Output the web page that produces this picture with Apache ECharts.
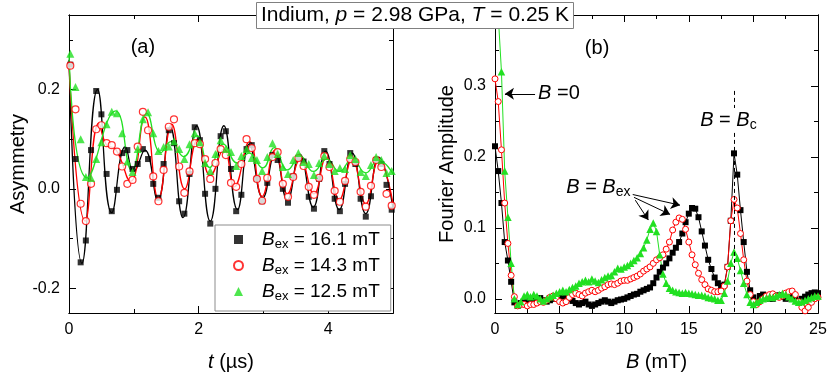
<!DOCTYPE html>
<html>
<head>
<meta charset="utf-8">
<script src="https://cdn.jsdelivr.net/npm/echarts@6.0.0/dist/echarts.min.js"></script>
<style>
html,body{margin:0;padding:0;background:#ffffff;}
#chart{width:830px;height:379px;}
</style>
</head>
<body>
<div id="chart"></div>
<script>
// ---------------- Panel (a): asymmetry vs time ----------------
const timeUs = [0.02,0.10,0.18,0.26,0.34,0.42,0.50,0.58,0.66,0.74,0.82,0.90,0.98,1.06,1.14,1.22,1.30,1.38,1.46,1.54,1.62,1.70,1.78,1.86,1.94,2.02,2.10,2.18,2.26,2.34,2.42,2.50,2.58,2.66,2.74,2.82,2.90,2.98,3.06,3.14,3.22,3.30,3.38,3.46,3.54,3.62,3.70,3.78,3.86,3.94,4.02,4.10,4.18,4.26,4.34,4.42,4.50,4.58,4.66,4.74,4.82,4.90,4.98];
const asym16_1 = [0.250,0.060,-0.148,-0.104,0.078,0.197,0.150,0.030,-0.045,-0.002,0.072,0.078,0.040,0.050,0.080,0.060,0.010,-0.018,0.050,0.118,0.092,-0.025,-0.050,0.030,0.124,0.098,-0.010,-0.070,0.000,0.106,0.116,0.040,-0.045,-0.012,0.080,0.088,0.020,-0.025,0.012,0.068,0.058,0.000,-0.028,0.025,0.062,0.055,-0.016,-0.040,0.020,0.076,0.050,-0.020,-0.045,0.010,0.072,0.050,-0.020,-0.056,-0.015,0.058,0.050,0.008,-0.042];
const asym14_3 = [0.248,0.160,-0.030,-0.065,0.010,0.120,0.128,0.092,0.088,0.075,0.045,0.010,0.018,0.085,0.155,0.118,0.025,-0.025,0.038,0.125,0.140,0.045,-0.008,0.035,0.092,0.090,0.060,0.020,0.052,0.080,0.068,0.012,0.004,0.050,0.100,0.082,0.020,-0.024,0.022,0.064,0.074,0.010,-0.016,0.024,0.062,0.046,0.004,-0.012,0.022,0.066,0.044,-0.004,-0.026,0.016,0.060,0.054,-0.006,-0.036,0.006,0.058,0.044,-0.010,-0.034];
const asym12_5 = [0.272,0.205,0.100,0.024,0.022,0.060,0.094,0.130,0.155,0.152,0.112,0.055,0.034,0.080,0.140,0.154,0.112,0.076,0.084,0.085,0.096,0.080,0.060,0.090,0.112,0.094,0.052,0.036,0.070,0.098,0.080,0.074,0.046,0.066,0.080,0.062,0.058,0.036,0.064,0.092,0.070,0.044,0.030,0.058,0.072,0.054,0.050,0.028,0.052,0.066,0.050,0.036,0.042,0.040,0.068,0.060,0.034,0.026,0.048,0.064,0.058,0.032,0.036];
// fitted curves, read at their turning points
const fit16_1 = [[0,0.26],[0.2,-0.15],[0.44,0.2],[0.66,-0.048],[0.87,0.085],[1.0,0.035],[1.17,0.078],[1.37,-0.022],[1.56,0.125],[1.76,-0.058],[1.97,0.127],[2.18,-0.065],[2.39,0.127],[2.6,-0.042],[2.78,0.09],[2.99,-0.018],[3.18,0.072],[3.37,-0.022],[3.56,0.07],[3.77,-0.037],[3.96,0.076],[4.17,-0.042],[4.37,0.072],[4.58,-0.05],[4.78,0.064],[5.0,-0.04]];
const fit14_3 = [[0,0.25],[0.25,-0.065],[0.46,0.132],[0.58,0.088],[0.72,0.08],[0.95,0.015],[1.17,0.145],[1.38,-0.02],[1.585,0.13],[1.785,0.0],[1.99,0.1],[2.18,0.027],[2.39,0.08],[2.55,0.004],[2.785,0.095],[2.98,-0.015],[3.18,0.078],[3.37,-0.01],[3.57,0.06],[3.78,-0.01],[3.97,0.064],[4.17,-0.022],[4.37,0.06],[4.58,-0.03],[4.78,0.058],[5.0,-0.03]];
const fit12_5 = [[0,0.27],[0.28,0.022],[0.72,0.157],[0.97,0.037],[1.2,0.152],[1.42,0.073],[1.57,0.095],[1.77,0.065],[1.97,0.107],[2.17,0.043],[2.38,0.09],[2.6,0.052],[2.78,0.072],[2.99,0.042],[3.17,0.083],[3.37,0.038],[3.57,0.066],[3.77,0.035],[3.98,0.06],[4.17,0.035],[4.37,0.06],[4.58,0.032],[4.77,0.058],[5.0,0.03]];
const timeTicks = [0, 2, 4];
const timeMinorTicks = [1, 3];
const asymTicks = [-0.2, 0, 0.2];
const asymMinorTicks = [-0.1, 0.1, 0.3];
const legendFields = ['16.1 mT', '14.3 mT', '12.5 mT'];

// ---------------- Panel (b): Fourier amplitude vs field ----------------
const fieldMT = [0,0.25,0.5,0.75,1,1.25,1.5,1.75,2,2.25,
2.5,2.75,3,3.25,3.5,3.75,4,4.25,4.5,4.75,
5,5.25,5.5,5.75,6,6.25,6.5,6.75,7,7.25,
7.5,7.75,8,8.25,8.5,8.75,9,9.25,9.5,9.75,
10,10.25,10.5,10.75,11,11.25,11.5,11.75,12,12.25,
12.5,12.75,13,13.25,13.5,13.75,14,14.25,14.5,14.75,
15,15.25,15.5,15.75,16,16.25,16.5,16.75,17,17.25,
17.5,17.75,18,18.25,18.5,18.75,19,19.25,19.5,19.75,
20,20.25,20.5,20.75,21,21.25,21.5,21.75,22,22.25,
22.5,22.75,23,23.25,23.5,23.75,24,24.25,24.5,24.75,
25];
const amp16_1 = [0.215,0.18,0.135,0.08,0.054,0.024,-0.005,-0.01,-0.006,-0.005,
-0.004,-0.003,-0.002,0.0,0.001,-0.002,-0.004,-0.002,0.0,0.001,
0.002,0.004,0.003,0.0,-0.003,-0.006,-0.008,-0.006,-0.004,-0.008,
-0.01,-0.008,-0.006,-0.004,-0.002,-0.004,-0.006,-0.004,-0.002,-0.001,
0.0,0.002,0.004,0.006,0.007,0.01,0.012,0.014,0.016,0.022,
0.03,0.038,0.044,0.05,0.057,0.065,0.072,0.08,0.092,0.108,
0.12,0.128,0.127,0.115,0.095,0.075,0.055,0.042,0.03,0.022,
0.018,0.02,0.045,0.11,0.205,0.175,0.125,0.08,0.038,0.012,
0.002,-0.004,0.004,0.006,0.003,0.0,0.0,0.003,0.005,0.003,
0.0,0.002,0.004,0.0,-0.003,0.0,0.003,0.006,0.008,0.009,
0.008];
const amp14_3 = [0.31,0.278,0.21,0.135,0.078,0.033,0.003,-0.01,-0.008,-0.008,
-0.01,-0.008,-0.008,-0.006,-0.004,-0.005,-0.002,0.002,0.004,0.0,
-0.004,-0.006,-0.004,0.002,0.006,0.008,0.006,0.004,0.008,0.01,
0.012,0.01,0.012,0.015,0.017,0.02,0.021,0.02,0.022,0.025,
0.026,0.026,0.028,0.03,0.032,0.035,0.039,0.042,0.045,0.05,
0.055,0.058,0.062,0.07,0.08,0.097,0.108,0.114,0.112,0.098,
0.08,0.062,0.048,0.036,0.027,0.02,0.014,0.012,0.01,0.01,
0.011,0.018,0.045,0.11,0.14,0.128,0.092,0.055,0.025,0.006,
-0.004,-0.008,-0.004,0.0,0.004,0.006,0.007,0.004,0.002,0.004,
0.008,0.01,0.011,0.006,-0.004,-0.012,-0.017,-0.012,-0.005,0.0,
0.002];
const amp12_5 = [0.5,0.4,0.32,0.18,0.115,0.05,0.0,-0.008,-0.004,0.004,
0.006,0.003,0.006,0.004,0.0,-0.003,0.0,0.003,0.005,0.008,
0.01,0.012,0.01,0.013,0.016,0.018,0.022,0.024,0.026,0.024,
0.028,0.025,0.023,0.027,0.03,0.032,0.033,0.038,0.043,0.042,
0.045,0.047,0.05,0.054,0.058,0.064,0.072,0.083,0.098,0.107,
0.095,0.062,0.035,0.022,0.015,0.012,0.01,0.009,0.008,0.009,
0.008,0.007,0.006,0.005,0.005,0.004,0.002,0.001,0.0,-0.002,
-0.002,0.008,0.025,0.05,0.066,0.057,0.04,0.022,0.006,-0.005,
-0.008,-0.005,-0.002,0.0,0.001,0.003,0.002,0.004,0.006,0.008,
0.006,0.003,0.0,-0.003,-0.005,-0.004,-0.002,0.0,0.002,0.004,
0.004];
const fieldTicks = [0, 5, 10, 15, 20, 25];
const fieldMinorTicks = [2.5, 7.5, 12.5, 17.5, 22.5];
const ampTicks = [0, 0.1, 0.2, 0.3];
const ampMinorTicks = [0.05, 0.15, 0.25, 0.35];

// ---------------- styling / building ----------------
const FF = '"Liberation Sans", Arial, Helvetica, sans-serif';
const BLACK = '#000000', RED = '#ff0000', GREEN = '#22e022';

function rich(fs) {
  return {
    n: {fontSize: fs, fontFamily: FF, color: '#000', lineHeight: fs + 4, verticalAlign: 'middle'},
    i: {fontSize: fs, fontFamily: FF, fontStyle: 'italic', color: '#000', lineHeight: fs + 4, verticalAlign: 'middle'},
    s: {fontSize: Math.round(fs * 0.7), fontFamily: FF, color: '#000', lineHeight: 12, verticalAlign: 'bottom'}
  };
}

function axis(g, pos, min, max, ticks, len, labels, fmt) {
  return {
    type: 'value', gridIndex: g, position: pos, min: min, max: max,
    axisLine: {show: true, onZero: false, lineStyle: {color: '#000', width: 1}},
    axisTick: {show: true, inside: true, length: len, customValues: ticks, lineStyle: {color: '#000', width: 1}},
    axisLabel: labels ? {show: true, customValues: labels, formatter: fmt, margin: 9, color: '#000', fontSize: 16, fontFamily: FF} : {show: false},
    splitLine: {show: false},
    minorTick: {show: false},
    axisPointer: {show: false}
  };
}

const xA0 = axis(0, 'bottom', 0, 5, timeTicks, 7, timeTicks, v => String(v));
Object.assign(xA0, {name: '{i|t}{n| (µs)}', nameLocation: 'middle', nameGap: 37, nameTextStyle: {rich: rich(20)}});
const xB0 = axis(1, 'bottom', 0, 25, fieldTicks, 7, fieldTicks, v => String(v));
Object.assign(xB0, {name: '{i|B}{n| (mT)}', nameLocation: 'middle', nameGap: 37, nameTextStyle: {rich: rich(20)}});
const yA0 = axis(0, 'left', -0.25, 0.35, asymTicks, 7, asymTicks, v => v.toFixed(1));
Object.assign(yA0, {name: 'Asymmetry', nameLocation: 'middle', nameGap: 36, nameTextStyle: {fontSize: 20, fontFamily: FF, color: '#000'}});
const yB0 = axis(1, 'left', -0.02, 0.40, ampTicks, 7, ampTicks, v => v.toFixed(1));
Object.assign(yB0, {name: 'Fourier Amplitude', nameLocation: 'middle', nameGap: 38, nameTextStyle: {fontSize: 20, fontFamily: FF, color: '#000'}});

const xAxes = [
  xA0,
  axis(0, 'bottom', 0, 5, timeMinorTicks, 4),
  axis(0, 'top', 0, 5, timeTicks, 7),
  axis(0, 'top', 0, 5, timeMinorTicks, 4),
  xB0,
  axis(1, 'bottom', 0, 25, fieldMinorTicks, 4),
  axis(1, 'top', 0, 25, fieldTicks, 7),
  axis(1, 'top', 0, 25, fieldMinorTicks, 4)
];
const yAxes = [
  yA0,
  axis(0, 'left', -0.25, 0.35, asymMinorTicks, 4),
  axis(0, 'right', -0.25, 0.35, asymTicks, 7),
  axis(0, 'right', -0.25, 0.35, asymMinorTicks, 4),
  yB0,
  axis(1, 'left', -0.02, 0.40, ampMinorTicks, 4),
  axis(1, 'right', -0.02, 0.40, ampTicks, 7),
  axis(1, 'right', -0.02, 0.40, ampMinorTicks, 4)
];

const pair = (xs, ys) => xs.map((x, i) => [x, ys[i]]);

function fitLine(data, color) {
  return {type: 'line', xAxisIndex: 0, yAxisIndex: 0, data: data, smooth: 0.5, symbol: 'none', showSymbol: false,
    lineStyle: {color: color, width: 1.3}, silent: true, z: 2, clip: true};
}
function points(name, data, symbol, size, style) {
  return {type: 'scatter', name: name, xAxisIndex: 0, yAxisIndex: 0, data: data, symbol: symbol, symbolSize: size,
    itemStyle: style, silent: true, z: 3, clip: true};
}
function spectrum(name, data, symbol, size, color, style) {
  return {type: 'line', name: name, xAxisIndex: 4, yAxisIndex: 4, data: data, symbol: symbol, symbolSize: size,
    showAllSymbol: true, lineStyle: {color: color, width: 1}, itemStyle: style, silent: true, z: 3, clip: true};
}

const textLabel = (coord, fmt, extra) => Object.assign({coord: coord, label: Object.assign({formatter: fmt}, extra || {})});

const series = [
  fitLine(fit16_1, BLACK),
  fitLine(fit14_3, RED),
  fitLine(fit12_5, GREEN),
  points(legendFields[0], pair(timeUs, asym16_1), 'rect', 6, {color: BLACK}),
  points(legendFields[1], pair(timeUs, asym14_3), 'circle', 7, {color: '#fff', borderColor: RED, borderWidth: 1.2}),
  Object.assign(points(legendFields[2], pair(timeUs, asym12_5), 'triangle', 8, {color: GREEN}), {
    markPoint: {silent: true, animation: false, symbol: 'circle', symbolSize: 1, itemStyle: {color: 'rgba(0,0,0,0)'},
      label: {show: true, position: 'inside', color: '#000', fontSize: 20, fontFamily: FF},
      data: [textLabel([1.14, 0.285], '(a)')]}
  }),
  Object.assign(spectrum('F16.1', pair(fieldMT, amp16_1), 'rect', 6, BLACK, {color: BLACK}), {
    markLine: {silent: true, animation: false, symbol: ['none', 'arrow'], symbolSize: 9,
      label: {show: false}, lineStyle: {color: '#000', width: 1, type: 'solid'},
      data: [
        [{coord: [3.1, 0.289]}, {coord: [0.77, 0.289]}],
        [{coord: [10.66, 0.147]}, {coord: [14.32, 0.132]}],
        [{coord: [10.76, 0.143]}, {coord: [13.55, 0.119]}],
        [{coord: [10.86, 0.139]}, {coord: [11.87, 0.111]}]
      ]}
  }),
  Object.assign(spectrum('F14.3', pair(fieldMT, amp14_3), 'circle', 6, RED, {color: '#fff', borderColor: RED, borderWidth: 1}), {
    markLine: {silent: true, animation: false, symbol: 'none',
      label: {show: false}, lineStyle: {color: '#000', width: 1, type: [4, 3]},
      data: [[{coord: [18.55, 0.293]}, {coord: [18.55, -0.02]}]]}
  }),
  Object.assign(spectrum('F12.5', pair(fieldMT, amp12_5), 'triangle', 7.5, GREEN, {color: GREEN}), {
    markPoint: {silent: true, animation: false, symbol: 'circle', symbolSize: 1, itemStyle: {color: 'rgba(0,0,0,0)'},
      label: {show: true, position: 'inside', color: '#000', fontSize: 20, fontFamily: FF, rich: rich(20)},
      data: [
        textLabel([7.9, 0.353], '(b)'),
        textLabel([4.95, 0.289], '{i|B}{n| =0}'),
        textLabel([8.0, 0.157], '{i|B}{n| = }{i|B}{s|ex}'),
        textLabel([18.07, 0.252], '{i|B}{n| = }{i|B}{s|c}', {backgroundColor: '#fff', padding: [0, 1, 0, 1]})
      ]}
  })
];

const chart = echarts.init(document.getElementById('chart'), null, {renderer: 'canvas'});
chart.setOption({
  animation: false,
  backgroundColor: '#ffffff',
  title: {
    text: '{n|Indium, }{i|p}{n| = 2.98 GPa, }{i|T}{n| = 0.25 K}',
    left: 'center', top: 0,
    backgroundColor: '#fff', borderColor: '#808080', borderWidth: 1,
    padding: [3, 5, 3, 5],
    textStyle: {fontSize: 21, fontWeight: 'normal', color: '#000', fontFamily: FF, rich: rich(21)},
    z: 20
  },
  legend: {
    show: true, selectedMode: false, orient: 'vertical',
    left: 215, top: 225,
    data: legendFields,
    itemWidth: 9, itemHeight: 9, itemGap: 5,
    backgroundColor: '#fff', borderColor: '#8c8c8c', borderWidth: 1,
    padding: [5, 11, 8, 18],
    formatter: name => '{i|B}{s|ex}{n| = ' + name + '}',
    textStyle: {padding: [0, 0, 0, 14], fontSize: 19, fontFamily: FF, color: '#000', rich: rich(19)},
    z: 10
  },
  grid: [
    {left: 69, top: 15, width: 324, height: 298, containLabel: false},
    {left: 495, top: 15, width: 323, height: 298, containLabel: false}
  ],
  xAxis: xAxes,
  yAxis: yAxes,
  series: series
});
</script>
</body>
</html>
